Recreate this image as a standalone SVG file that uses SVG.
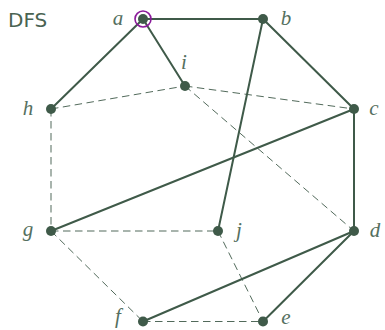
<svg xmlns="http://www.w3.org/2000/svg" width="385" height="330" viewBox="0 0 385 330">
<style>
.s{stroke:#3f5a49;stroke-width:2;fill:none;stroke-linecap:round}
.d{stroke:#3f5a49;stroke-width:1;fill:none;stroke-dasharray:7.5 4.5;opacity:0.9}
.n{fill:#3f5a49}
.l{font-family:"Liberation Serif",serif;font-style:italic;font-size:21px;fill:#557060;text-anchor:middle;dominant-baseline:central}
.t{font-family:"DejaVu Sans",sans-serif;font-size:20px;fill:#4a6352}
</style>
<rect width="385" height="330" fill="#fff"/>
<text class="t" x="8" y="27">DFS</text>
<g id="connectors">
<line class="d" x1="51" y1="109" x2="185" y2="86"/>
<line class="d" x1="185" y1="86" x2="354" y2="109"/>
<line class="d" x1="185" y1="86" x2="354" y2="231"/>
<line class="d" x1="51" y1="109" x2="51" y2="231"/>
<line class="d" x1="51" y1="231" x2="218" y2="231"/>
<line class="d" x1="51" y1="231" x2="143" y2="321.5"/>
<line class="d" x1="218" y1="231" x2="263" y2="321.5"/>
<line class="d" x1="143" y1="321.5" x2="263" y2="321.5"/>
<line class="s" x1="143" y1="19" x2="263" y2="19"/>
<line class="s" x1="143" y1="19" x2="51" y2="109"/>
<line class="s" x1="143" y1="19" x2="185" y2="86"/>
<line class="s" x1="263" y1="19" x2="354" y2="109"/>
<line class="s" x1="263" y1="19" x2="218" y2="231"/>
<line class="s" x1="354" y1="109" x2="354" y2="231"/>
<line class="s" x1="354" y1="109" x2="51" y2="231"/>
<line class="s" x1="354" y1="231" x2="143" y2="321.5"/>
<line class="s" x1="354" y1="231" x2="263" y2="321.5"/>
</g>
<g id="node-a"><circle class="n" cx="143" cy="19" r="5"/><circle cx="143" cy="19" r="8" fill="none" stroke="#8a1a9a" stroke-width="1.6"/><text class="l" x="118" y="18">a</text></g>
<g id="node-b"><circle class="n" cx="263" cy="19" r="5"/><text class="l" x="286" y="18">b</text></g>
<g id="node-c"><circle class="n" cx="354" cy="109" r="5"/><text class="l" x="374" y="108">c</text></g>
<g id="node-d"><circle class="n" cx="354" cy="231" r="5"/><text class="l" x="375" y="230">d</text></g>
<g id="node-e"><circle class="n" cx="263" cy="321.5" r="5"/><text class="l" x="286" y="317">e</text></g>
<g id="node-f"><circle class="n" cx="143" cy="321.5" r="5"/><text class="l" x="118" y="316">f</text></g>
<g id="node-g"><circle class="n" cx="51" cy="231" r="5"/><text class="l" x="28" y="229">g</text></g>
<g id="node-h"><circle class="n" cx="51" cy="109" r="5"/><text class="l" x="28" y="108">h</text></g>
<g id="node-i"><circle class="n" cx="185" cy="86" r="5"/><text class="l" x="184" y="62">i</text></g>
<g id="node-j"><circle class="n" cx="218" cy="231" r="5"/><text class="l" x="239" y="230">j</text></g>
</svg>
